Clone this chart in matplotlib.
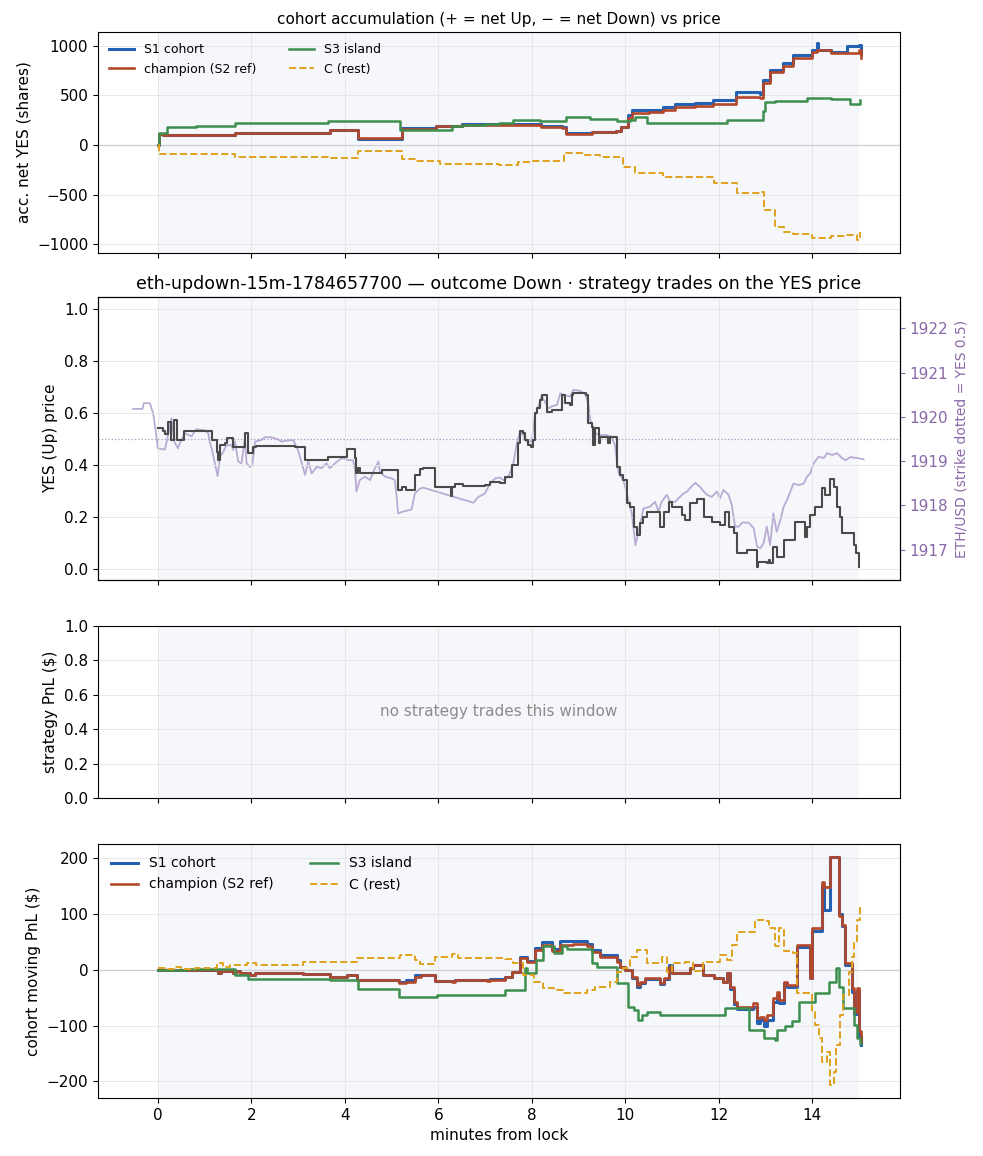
import matplotlib
matplotlib.use("Agg")
import matplotlib.pyplot as plt

# ---- panel 1: accumulated net YES shares ----
acc_t = [0, 0.02, 0.1, 1.65, 3.1, 3.68, 4.28, 5.22, 5.96, 6.5, 7.3, 8.2, 8.64, 8.73, 9.3, 9.8, 9.9,
         10.05, 10.15, 10.5, 10.8, 11.06, 11.5, 11.88, 12.38, 12.88, 12.95, 13.1, 13.38, 13.58,
         14.0, 14.1, 14.12, 14.4, 14.74, 15.0, 15.05]
acc_s1 = [0, 110, 98, 125, 118, 151, 57, 172, 195, 208, 212, 190, 178, 118, 128, 141, 184,
          300, 354, 354, 387, 414, 420, 455, 538, 515, 657, 757, 825, 909,
          959, 1030, 960, 943, 1000, 1010, 919]
acc_champ = [0, 110, 98, 125, 118, 151, 67, 161, 192, 206, 206, 183, 172, 108, 128, 141, 184,
             276, 320, 330, 354, 380, 390, 414, 488, 471, 623, 740, 800, 875,
             943, 960, 960, 926, 933, 960, 875]
acc_s3_t = [0, 0.02, 0.19, 0.82, 1.65, 1.95, 3.65, 5.18, 6.04, 6.3, 6.54, 7.0, 7.3, 7.6, 8.18,
            8.5, 8.73, 9.25, 9.82, 10.1, 10.2, 10.46, 12.17, 12.95, 13.0, 13.2, 13.89, 14.41,
            14.8, 15.03]
acc_s3 = [0, 121, 179, 192, 219, 225, 246, 151, 155, 190, 207, 214, 222, 251, 246,
          244, 279, 260, 247, 257, 278, 219, 254, 343, 437, 444, 471, 465, 414, 458]
acc_c_t = [0, 0.02, 1.65, 3.65, 4.28, 5.22, 5.5, 6.04, 7.3, 7.7, 8.0, 8.7, 9.15, 9.45, 9.9,
           9.95, 10.2, 10.8, 11.9, 12.4, 12.88, 12.97, 13.2, 13.4, 13.6, 14.0, 14.4, 14.7,
           14.95, 15.03]
acc_c = [0, -94, -117, -134, -57, -142, -165, -190, -199, -175, -165, -84, -101, -117, -134,
         -219, -286, -320, -387, -488, -471, -657, -825, -875, -900, -943, -919, -909, -960, -875]

# ---- panel 2: YES price and ETH/USD ----
yes_t = [0.0, 0.1, 0.15, 0.22, 0.29, 0.35, 0.40, 0.47, 0.56, 1.15, 1.26, 1.29, 1.33, 1.43, 1.47,
         1.61, 1.86, 1.92, 2.04, 2.11, 2.93, 3.15, 3.65, 4.04, 4.22, 4.25, 4.28, 4.32, 4.79, 5.14,
         5.22, 5.32, 5.50, 5.61, 5.68, 5.93, 6.27, 6.29, 6.36, 6.54, 7.0, 7.11, 7.32, 7.43, 7.57,
         7.71, 7.75, 7.82, 7.86, 7.93, 7.99, 8.03, 8.07, 8.11, 8.18, 8.21, 8.32, 8.43, 8.64, 8.71,
         8.82, 8.86, 8.89, 9.16, 9.21, 9.28, 9.32, 9.36, 9.43, 9.46, 9.64, 9.68, 9.82, 9.89, 9.96,
         10.03, 10.1, 10.18, 10.25, 10.32, 10.39, 10.46, 10.68, 10.75, 10.82, 10.93, 11.0, 11.21,
         11.28, 11.39, 11.53, 11.68, 11.85, 12.03, 12.14, 12.21, 12.32, 12.39, 12.6, 12.82, 12.85,
         13.03, 13.07, 13.1, 13.17, 13.24, 13.39, 13.64, 13.85, 13.89, 13.96, 14.07, 14.21, 14.28,
         14.39, 14.46, 14.53, 14.6, 14.64, 14.82, 14.89, 14.93, 15.0]
yes_px = [0.541, 0.53, 0.52, 0.567, 0.496, 0.573, 0.496, 0.495, 0.532, 0.495, 0.451, 0.419, 0.477,
          0.486, 0.502, 0.47, 0.522, 0.445, 0.47, 0.473, 0.47, 0.419, 0.43, 0.461, 0.425, 0.368,
          0.39, 0.37, 0.381, 0.304, 0.317, 0.304, 0.361, 0.383, 0.39, 0.314, 0.28, 0.316, 0.327,
          0.319, 0.323, 0.336, 0.332, 0.355, 0.40, 0.483, 0.532, 0.522, 0.496, 0.477, 0.47, 0.496,
          0.599, 0.618, 0.65, 0.669, 0.605, 0.612, 0.669, 0.637, 0.63, 0.669, 0.676, 0.669, 0.56,
          0.547, 0.477, 0.541, 0.483, 0.509, 0.483, 0.509, 0.393, 0.361, 0.342, 0.252, 0.24, 0.163,
          0.131, 0.176, 0.202, 0.221, 0.221, 0.163, 0.221, 0.259, 0.24, 0.208, 0.188, 0.252, 0.268,
          0.202, 0.182, 0.17, 0.221, 0.163, 0.138, 0.06, 0.073, 0.008, 0.028, 0.022, 0.035, 0.022,
          0.086, 0.047, 0.112, 0.182, 0.124, 0.163, 0.208, 0.24, 0.31, 0.285, 0.348, 0.317, 0.24,
          0.202, 0.138, 0.138, 0.093, 0.06, 0.008]

eth_t = [-0.53, -0.33, -0.30, -0.17, -0.1, -0.03, 0.0, 0.15, 0.19, 0.29, 0.36, 0.43, 0.5, 0.58,
         0.72, 0.82, 1.0, 1.08, 1.11, 1.16, 1.22, 1.28, 1.33, 1.4, 1.47, 1.58, 1.61, 1.65, 1.72,
         1.79, 1.83, 1.86, 1.9, 1.97, 2.02, 2.08, 2.22, 2.29, 2.43, 2.57, 2.65, 2.79, 2.9, 3.0,
         3.08, 3.15, 3.22, 3.29, 3.4, 3.5, 3.61, 3.68, 3.79, 3.94, 4.08, 4.18, 4.22, 4.25, 4.32,
         4.43, 4.54, 4.61, 4.72, 4.75, 4.86, 5.0, 5.07, 5.11, 5.14, 5.22, 5.43, 5.5, 5.61, 5.68,
         6.75, 6.86, 7.0, 7.11, 7.22, 7.32, 7.39, 7.5, 7.6, 7.68, 7.75, 7.82, 7.89, 8.0, 8.07,
         8.14, 8.21, 8.32, 8.36, 8.43, 8.54, 8.61, 8.71, 8.82, 8.89, 9.03, 9.14, 9.21, 9.25, 9.36,
         9.46, 9.6, 9.71, 9.78, 9.82, 9.86, 9.96, 10.07, 10.14, 10.22, 10.29, 10.39, 10.53, 10.64,
         10.71, 10.78, 10.89, 10.96, 11.07, 11.14, 11.25, 11.32, 11.43, 11.5, 11.6, 11.68, 11.75,
         11.85, 11.96, 12.03, 12.1, 12.21, 12.28, 12.35, 12.43, 12.5, 12.64, 12.75, 12.82, 12.89,
         12.96, 13.03, 13.1, 13.17, 13.24, 13.32, 13.39, 13.46, 13.6, 13.71, 13.82, 13.89, 13.96,
         14.03, 14.14, 14.25, 14.32, 14.43, 14.53, 14.64, 14.71, 14.82, 14.96, 15.1]
eth_usd = [1920.18, 1920.18, 1920.31, 1920.31, 1920.08, 1919.56, 1919.29, 1919.26, 1919.44,
           1919.97, 1919.42, 1919.29, 1919.48, 1919.63, 1919.56, 1919.72, 1919.70, 1919.63,
           1919.44, 1919.25, 1918.95, 1918.66, 1919.10, 1919.21, 1919.36, 1919.36, 1919.25,
           1919.44, 1918.99, 1918.95, 1919.25, 1919.51, 1918.95, 1918.87, 1918.91, 1919.44,
           1919.48, 1919.54, 1919.54, 1919.49, 1919.44, 1919.47, 1919.47, 1919.25, 1918.95,
           1918.69, 1918.99, 1918.72, 1918.87, 1918.84, 1918.95, 1918.84, 1918.95, 1919.07,
           1919.02, 1919.02, 1918.80, 1918.31, 1918.57, 1918.65, 1918.57, 1918.76, 1918.99,
           1918.76, 1918.65, 1918.61, 1918.57, 1918.19, 1917.82, 1917.85, 1917.91, 1918.27,
           1918.38, 1918.40, 1918.06, 1918.19, 1918.27, 1918.50, 1918.61, 1918.63, 1918.57,
           1918.65, 1918.91, 1919.40, 1919.66, 1919.59, 1919.44, 1919.44, 1920.04, 1920.23,
           1920.47, 1920.27, 1920.19, 1920.24, 1920.27, 1920.53, 1920.49, 1920.46, 1920.61,
           1920.59, 1920.52, 1920.31, 1919.93, 1919.63, 1919.59, 1919.59, 1919.55, 1919.36,
           1919.02, 1918.72, 1918.57, 1918.12, 1917.82, 1917.10, 1917.44, 1917.93, 1917.97,
           1918.08, 1917.86, 1918.08, 1918.24, 1918.08, 1918.08, 1918.16, 1918.27, 1918.31,
           1918.44, 1918.51, 1918.42, 1918.31, 1918.24, 1918.19, 1918.31, 1918.16, 1918.35,
           1918.24, 1918.01, 1917.52, 1917.52, 1917.61, 1917.61, 1917.48, 1917.07, 1917.03,
           1917.14, 1917.52, 1917.10, 1917.82, 1917.40, 1917.67, 1917.97, 1918.12, 1918.49,
           1918.46, 1918.49, 1918.65, 1918.72, 1918.95, 1919.10, 1919.07, 1919.18, 1919.14,
           1919.18, 1919.07, 1919.02, 1919.09, 1919.07, 1919.04]
strike_usd = 1919.5

# ---- panel 4: cohort moving PnL ----
pnl_t = [0, 1.29, 1.36, 1.6, 1.68, 1.75, 1.97, 2.08, 3.11, 3.68, 4.04, 4.26, 5.15, 5.32, 5.5,
         5.64, 5.93, 6.29, 6.36, 7.04, 7.11, 7.43, 7.57, 7.75, 7.89, 8.07, 8.21, 8.43, 8.61, 8.89,
         9.18, 9.28, 9.46, 9.82, 9.89, 10.0, 10.15, 10.25, 10.32, 10.43, 10.75, 10.82, 10.93, 11.0,
         11.39, 11.46, 11.67, 11.89, 12.1, 12.17, 12.25, 12.32, 12.39, 12.74, 12.82, 12.89, 12.96,
         13.03, 13.17, 13.24, 13.28, 13.39, 13.46, 13.67, 13.92, 13.96, 14.0, 14.07, 14.21, 14.25,
         14.39, 14.57, 14.64, 14.71, 14.85, 14.89, 14.96, 15.0, 15.05]
pnl_champ = [-1, -5, -2, -5, -2, -5, -9, -6, -8, -12, -9, -18, -23, -21, -12, -10, -20, -21, -18,
             -20, -18, -12, -3, 21, 14, 36, 44, 34, 45, 46, 42, 32, 24, 15, 5, 0, -12, -27, -21,
             -15, -24, -15, 6, -6, 3, 8, -10, -15, -21, -6, -30, -57, -66, -60, -87, -84, -90,
             -81, -51, -39, -54, -21, -27, 45, 45, -15, 75, 75, 158, 149, 203, 96, 81, 12, -33,
             -75, -33, -110, -129]
pnl_s1 = [-1, -5, -2, -5, -2, -5, -9, -6, -8, -12, -9, -18, -22, -19, -10, -9, -20, -20, -18,
          -19, -17, -12, -3, 24, 16, 40, 50, 38, 51, 52, 46, 36, 27, 17, 5, 0, -14, -31, -24,
          -17, -26, -16, 8, -6, 3, 9, -10, -15, -21, -6, -34, -62, -70, -66, -95, -90, -100,
          -90, -58, -45, -60, -24, -30, 41, 41, -15, 70, 70, 150, 108, 203, 100, 79, 8, -40,
          -80, -38, -118, -134]
pnl_s3_t = [0, 0.6, 1.65, 1.93, 3.68, 4.29, 5.15, 5.97, 7.43, 7.86, 7.89, 8.1, 8.24, 8.47, 8.64,
            8.75, 9.3, 9.39, 9.82, 10.07, 10.18, 10.28, 10.35, 10.46, 10.75, 12.14, 12.64, 12.96,
            13.21, 13.24, 13.42, 13.56, 13.71, 14.07, 14.35, 14.5, 14.57, 14.67, 14.9, 14.96, 15.03]
pnl_s3 = [-1, 2, -10, -16, -18, -34, -49, -45, -36, 3, -6, 18, 43, 31, 43,
          37, 12, 6, -24, -66, -72, -90, -81, -75, -81, -69, -108, -122,
          -126, -108, -101, -92, -57, -42, -21, 4, -30, -69, -99, -123, -133]
pnl_c_t = [0, 0.2, 0.35, 0.5, 0.8, 1.26, 1.4, 1.55, 1.9, 2.1, 3.11, 4.26, 5.18, 5.5, 5.6, 5.93,
           6.29, 6.43, 7.43, 7.6, 7.82, 8.04, 8.25, 8.47, 8.68, 9.18, 9.36, 9.68, 9.82, 9.96, 10.1,
           10.25, 10.46, 10.78, 10.89, 11.0, 11.28, 11.46, 11.67, 12.03, 12.17, 12.28, 12.39,
           12.78, 13.03, 13.07, 13.21, 13.28, 13.39, 13.6, 13.67, 13.96, 14.0, 14.07, 14.14,
           14.21, 14.32, 14.39, 14.46, 14.5, 14.6, 14.67, 14.78, 14.85, 14.89, 14.96, 15.03]
pnl_c = [3, 2, 5, 2, 3, 12, 6, 9, 12, 9, 14, 21, 26, 18, 11, 24, 28, 21, 20, 12, -10, -21, -33,
         -36, -42, -37, -30, -21, -3, 3, 24, 36, 12, 24, -3, 12, 15, -2, 15, 26, 18, 45, 68, 90,
         88, 75, 42, 75, 33, 30, -42, -42, -75, -99, -123, -165, -147, -207, -183, -135, -81,
         -45, -3, 24, 48, 90, 117]

C_S1 = "#2461b2"
C_CH = "#b3472a"
C_S3 = "#3d8f4e"
C_C = "#e0a21c"
SPAN = "#f5f7fb"
PURPLE = "#8a68a8"

fig = plt.figure(figsize=(9.83, 11.56), dpi=100)
L, W = 0.0997, 0.8159
ax4 = fig.add_axes([L, 0.0502, W, 0.2197])
ax1 = fig.add_axes([L, 0.7811, W, 0.1912], sharex=ax4)
ax2 = fig.add_axes([L, 0.4983, W, 0.2448], sharex=ax4)
ax3 = fig.add_axes([L, 0.3097, W, 0.1488], sharex=ax4)
axr = ax2.twinx()

for ax in (ax1, ax3, ax4, axr):
    ax.axvspan(0, 15, color=SPAN, zorder=0, lw=0)
for ax in (ax1, ax2, ax3, ax4):
    ax.grid(True, color="#e4e4e4", lw=0.6, zorder=0)
    ax.set_axisbelow(True)
    ax.tick_params(labelsize=11)
for ax in (ax1, ax2, ax3):
    ax.tick_params(labelbottom=False)

# panel 1
ax1.axhline(0, color="#cfcfcf", lw=0.9, zorder=1)
ax1.plot(acc_t, acc_s1, drawstyle="steps-post", color=C_S1, lw=2.2, label="S1 cohort")
ax1.plot(acc_t, acc_champ, drawstyle="steps-post", color=C_CH, lw=1.9, label="champion (S2 ref)")
ax1.plot(acc_s3_t, acc_s3, drawstyle="steps-post", color=C_S3, lw=1.8, label="S3 island")
ax1.plot(acc_c_t, acc_c, drawstyle="steps-post", color=C_C, lw=1.4, ls="--", label="C (rest)")
ax1.set_ylim(-1091, 1141)
ax1.set_yticks([-1000, -500, 0, 500, 1000])
ax1.set_ylabel("acc. net YES (shares)", fontsize=11)
ax1.set_title("cohort accumulation (+ = net Up, \u2212 = net Down) vs price", fontsize=11)
ax1.legend(loc="upper left", ncol=2, frameon=False, fontsize=9, columnspacing=2.6)

# panel 2
ax2.axhline(0.5, color="#a89cc0", lw=0.9, ls=":", zorder=1)
ax2.plot(yes_t, yes_px, drawstyle="steps-post", color="#4a4a4a", lw=1.5, zorder=3)
ylo, yhi = -0.042, 1.046
ax2.set_ylim(ylo, yhi)
ax2.set_yticks([0.0, 0.2, 0.4, 0.6, 0.8, 1.0])
ax2.set_ylabel("YES (Up) price", fontsize=11)
ax2.set_title("eth-updown-15m-1784657700 \u2014 outcome Down \u00b7 strategy trades on the YES price",
              fontsize=12.5)
axr.plot(eth_t, eth_usd, color="#b3a3cf", lw=1.3, alpha=0.9, zorder=2)
usd_per_yes = 5.88
axr.set_ylim(strike_usd + (ylo - 0.5) * usd_per_yes, strike_usd + (yhi - 0.5) * usd_per_yes)
axr.set_yticks([1917, 1918, 1919, 1920, 1921, 1922])
axr.tick_params(colors=PURPLE, labelsize=11)
axr.set_ylabel("ETH/USD (strike dotted = YES 0.5)", color=PURPLE, fontsize=10)
ax2.set_zorder(axr.get_zorder() + 1)
ax2.patch.set_visible(False)

# panel 3
ax3.set_ylim(0, 1)
ax3.set_yticks([0.0, 0.2, 0.4, 0.6, 0.8, 1.0])
ax3.set_ylabel("strategy PnL (\\$)", fontsize=11)
ax3.text(0.5, 0.5, "no strategy trades this window", transform=ax3.transAxes,
         ha="center", va="center", color="#8c8c8c", fontsize=11)

# panel 4
ax4.axhline(0, color="#cfcfcf", lw=0.9, zorder=1)
ax4.plot(pnl_t, pnl_s1, drawstyle="steps-post", color=C_S1, lw=2.2, label="S1 cohort")
ax4.plot(pnl_t, pnl_champ, drawstyle="steps-post", color=C_CH, lw=1.9, label="champion (S2 ref)")
ax4.plot(pnl_s3_t, pnl_s3, drawstyle="steps-post", color=C_S3, lw=1.8, label="S3 island")
ax4.plot(pnl_c_t, pnl_c, drawstyle="steps-post", color=C_C, lw=1.4, ls="--", label="C (rest)")
ax4.set_ylim(-230, 226)
ax4.set_yticks([-200, -100, 0, 100, 200])
ax4.set_ylabel("cohort moving PnL (\\$)", fontsize=11)
ax4.set_xlabel("minutes from lock", fontsize=11)
ax4.legend(loc="upper left", ncol=2, frameon=False, fontsize=10, columnspacing=2.6)
ax4.set_xlim(-1.28, 15.88)
ax4.set_xticks([0, 2, 4, 6, 8, 10, 12, 14])

fig.savefig("out.png", dpi=100)
